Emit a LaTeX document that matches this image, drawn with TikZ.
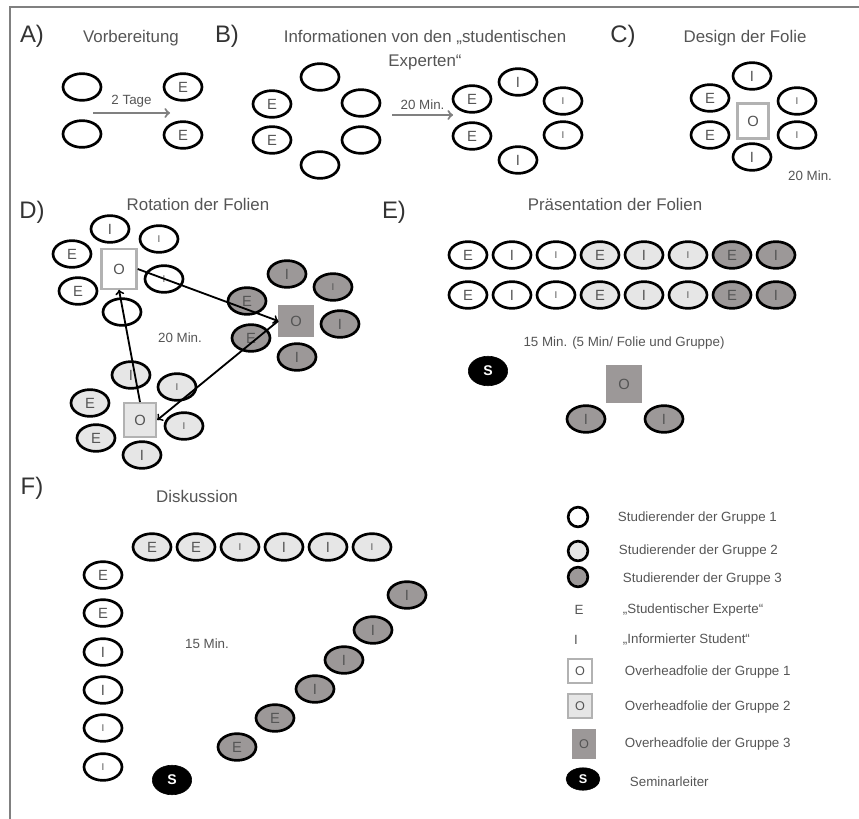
\documentclass[tikz,border=0pt]{standalone}
\usepackage{fontspec}
\setmainfont{Liberation Sans}
\usetikzlibrary{shapes.geometric}

\definecolor{grpzwei}{HTML}{E6E6E6}
\definecolor{grpdrei}{HTML}{9C9898}
\definecolor{schrift}{HTML}{555555}

\tikzset{
	stud/.style={ellipse, draw=black, line width=1.9pt, minimum width=27pt, minimum height=19pt, inner sep=0pt, text=schrift, font=\fontsize{10.5}{10.5}\selectfont},
	studA/.style={stud, fill=white},
	studB/.style={stud, fill=grpzwei},
	studC/.style={stud, fill=grpdrei},
	klein/.style={font=\fontsize{7}{7}\selectfont},
	folie/.style={rectangle, inner sep=0pt, minimum width=24pt, minimum height=26pt, text=schrift, font=\fontsize{10.5}{10.5}\selectfont},
	folieA/.style={folie, draw=gray!60, line width=1.6pt, fill=white},
	folieB/.style={folie, draw=gray!60, line width=1.6pt, fill=grpzwei},
	folieC/.style={folie, fill=grpdrei},
	leiter/.style={ellipse, fill=black, draw=black, text=white, inner sep=0pt, minimum width=28pt, minimum height=21pt, font=\bfseries\fontsize{10}{10}\selectfont},
	kreis/.style={circle, draw=black, line width=1.9pt, minimum size=14pt, inner sep=0pt},
	titel/.style={text=schrift, font=\fontsize{12}{17.5}\selectfont},
	buchst/.style={text=black!80, font=\fontsize{17}{17}\selectfont},
	zeit/.style={text=schrift, font=\fontsize{9.5}{9.5}\selectfont},
	legtext/.style={text=schrift, font=\fontsize{9.5}{9.5}\selectfont, anchor=west},
}

\begin{document}
\begin{tikzpicture}[x=0.025cm, y=-0.025cm]
	\useasboundingbox (0,0) rectangle (859,819);
	\draw[gray, line width=1pt] (10,819) -- (10,7) -- (859,7);
	%\draw[help lines, step=50] (0,0) grid (859,819);
	% A) Vorbereitung
	\node[buchst] (la) at (32,36) {A)};
	\node[titel] (ta) at (131,38) {Vorbereitung};
	\node[studA] (a1) at (82,87) {};
	\node[studA] (a2) at (82,134) {};
	\node[studA] (a3) at (183,87) {E};
	\node[studA] (a4) at (183,135) {E};
	\coordinate (a-von) at (93,113);
	\coordinate (a-bis) at (170,113);
	\draw[->, gray, line width=1.5pt] (a-von) -- (a-bis) node[midway, above, zeit] {2 Tage};
	% B) Informationen
	\node[buchst] (lb) at (227,36) {B)};
	\node[titel, align=center] (tb) at (425,50) {Informationen von den „studentischen\\Experten“};
	\node[studA] (b1) at (320,77) {};
	\node[studA] (b2) at (361,103) {};
	\node[studA] (b3) at (361,140) {};
	\node[studA] (b4) at (320,165) {};
	\node[studA] (b5) at (272,104) {E};
	\node[studA] (b6) at (272,140) {E};
	\coordinate (b-von) at (392,115);
	\coordinate (b-bis) at (453,115);
	\draw[->, gray, line width=1.5pt] (b-von) -- (b-bis) node[midway, above, zeit] {20 Min.};
	\node[studA] (bb1) at (518,82) {I};
	\node[studA, klein] (bb2) at (563,101) {I};
	\node[studA, klein] (bb3) at (563,135) {I};
	\node[studA] (bb4) at (518,160) {I};
	\node[studA] (bb5) at (472,99) {E};
	\node[studA] (bb6) at (472,136) {E};
	% C) Design
	\node[buchst] (lc) at (623,36) {C)};
	\node[titel] (tc) at (745,38) {Design der Folie};
	\node[studA] (c1) at (752,76) {I};
	\node[studA] (c2) at (710,98) {E};
	\node[studA] (c3) at (710,135) {E};
	\node[studA, klein] (c4) at (797,101) {I};
	\node[studA, klein] (c5) at (797,135) {I};
	\node[studA] (c6) at (752,157) {I};
	\node[folieA, minimum width=22pt, minimum height=25pt] (co) at (753,121) {O};
	\node[zeit] (zc) at (810,176) {20 Min.};
	% D) Rotation
	\node[buchst] (ld) at (32,212) {D)};
	\node[titel] (td) at (198,204) {Rotation der Folien};
	\node[studA] (d1a) at (110,229) {I};
	\node[studA, klein] (d1b) at (159,239) {I};
	\node[studA] (d1c) at (72,254) {E};
	\node[studA] (d1d) at (78,291) {E};
	\node[studA, klein] (d1e) at (164,279) {I};
	\node[studA] (d1f) at (122,312) {};
	\node[folieA, minimum width=25pt, minimum height=28pt] (d1o) at (119,269) {O};
	\node[studC] (d3a) at (287,274) {I};
	\node[studC, klein] (d3b) at (333,287) {I};
	\node[studC] (d3c) at (247,301) {E};
	\node[studC] (d3d) at (251,338) {E};
	\node[studC] (d3e) at (340,324) {I};
	\node[studC] (d3f) at (297,357) {I};
	\node[folieC, minimum width=25pt, minimum height=23pt] (d3o) at (296,321) {O};
	\node[studB] (d2a) at (131,375) {I};
	\node[studB] (d2b) at (90,403) {E};
	\node[studB, klein] (d2c) at (177,387) {I};
	\node[studB] (d2d) at (96,438) {E};
	\node[studB, klein] (d2e) at (184,426) {I};
	\node[studB] (d2f) at (142,455) {I};
	\node[folieB, minimum width=23pt, minimum height=24pt] (d2o) at (140,420) {O};
	\draw[->, line width=1.3pt] (d1o.east) -- (d3o.west);
	\draw[->, line width=1.3pt] (d3o.west) -- (d2o.east);
	\draw[->, line width=1.3pt] (d2o.north) -- (d1o.south);
	\node[zeit] (zd) at (180,338) {20 Min.};
	% E) Praesentation
	\node[buchst] (le) at (394,212) {E)};
	\node[titel] (te) at (615,204) {Präsentation der Folien};
	\node[studA] (e1) at (468,255) {E};
	\node[studA] (e2) at (512,255) {I};
	\node[studA, klein] (e3) at (556,255) {I};
	\node[studB] (e4) at (600,255) {E};
	\node[studB] (e5) at (644,255) {I};
	\node[studB, klein] (e6) at (688,255) {I};
	\node[studC] (e7) at (732,255) {E};
	\node[studC] (e8) at (776,255) {I};
	\node[studA] (f1) at (468,295) {E};
	\node[studA] (f2) at (512,295) {I};
	\node[studA, klein] (f3) at (556,295) {I};
	\node[studB] (f4) at (600,295) {E};
	\node[studB] (f5) at (644,295) {I};
	\node[studB, klein] (f6) at (688,295) {I};
	\node[studC] (f7) at (732,295) {E};
	\node[studC] (f8) at (776,295) {I};
	\node[zeit] (ze) at (624,343) {15 Min. (5 Min/ Folie und Gruppe)};
	\node[leiter] (es) at (488,371) {S};
	\node[folieC, minimum width=25pt, minimum height=27pt] (eo) at (624,384) {O};
	\node[studC] (ei1) at (586,419) {I};
	\node[studC] (ei2) at (664,419) {I};
	% F) Diskussion
	\node[buchst] (lf) at (32,488) {F)};
	\node[titel] (tf) at (197,496) {Diskussion};
	\node[studB] (g1) at (152,547) {E};
	\node[studB] (g2) at (196,547) {E};
	\node[studB, klein] (g3) at (240,547) {I};
	\node[studB] (g4) at (284,547) {I};
	\node[studB] (g5) at (328,547) {I};
	\node[studB, klein] (g6) at (372,547) {I};
	\node[studA] (h1) at (103,575) {E};
	\node[studA] (h2) at (103,613) {E};
	\node[studA] (h3) at (103,652) {I};
	\node[studA] (h4) at (103,690) {I};
	\node[studA, klein] (h5) at (103,728) {I};
	\node[studA, klein] (h6) at (103,767) {I};
	\node[studC] (k1) at (407,595) {I};
	\node[studC] (k2) at (373,630) {I};
	\node[studC] (k3) at (344,660) {I};
	\node[studC] (k4) at (315,689) {I};
	\node[studC] (k5) at (275,718) {E};
	\node[studC] (k6) at (237,747) {E};
	\node[leiter] (fs) at (172,780) {S};
	\node[zeit] (zf) at (207,644) {15 Min.};
	% Legende
	\node[kreis, fill=white] (m1) at (578,517) {};
	\node[legtext] (n1) at (613,518) {Studierender der Gruppe 1};
	\node[kreis, fill=grpzwei] (m2) at (578,551) {};
	\node[legtext] (n2) at (614,551) {Studierender der Gruppe 2};
	\node[kreis, fill=grpdrei] (m3) at (578,577) {};
	\node[legtext] (n3) at (618,579) {Studierender der Gruppe 3};
	\node[zeit] (m4) at (579,610) {E};
	\node[legtext] (n4) at (618,610) {„Studentischer Experte“};
	\node[zeit] (m5) at (576,640) {I};
	\node[legtext] (n5) at (618,640) {„Informierter Student“};
	\node[folieA, minimum width=17pt, minimum height=17pt, font=\fontsize{9}{9}\selectfont] (m6) at (580,671) {O};
	\node[legtext] (n6) at (620,672) {Overheadfolie der Gruppe 1};
	\node[folieB, minimum width=17pt, minimum height=17pt, font=\fontsize{9}{9}\selectfont] (m7) at (580,706) {O};
	\node[legtext] (n7) at (620,707) {Overheadfolie der Gruppe 2};
	\node[folieC, minimum width=17pt, minimum height=21pt, font=\fontsize{9}{9}\selectfont] (m8) at (584,744) {O};
	\node[legtext] (n8) at (620,744) {Overheadfolie der Gruppe 3};
	\node[leiter, minimum width=24pt, minimum height=16pt, font=\bfseries\fontsize{9}{9}\selectfont] (m9) at (583,779) {S};
	\node[legtext] (n9) at (625,782) {Seminarleiter};
\end{tikzpicture}
\end{document}
